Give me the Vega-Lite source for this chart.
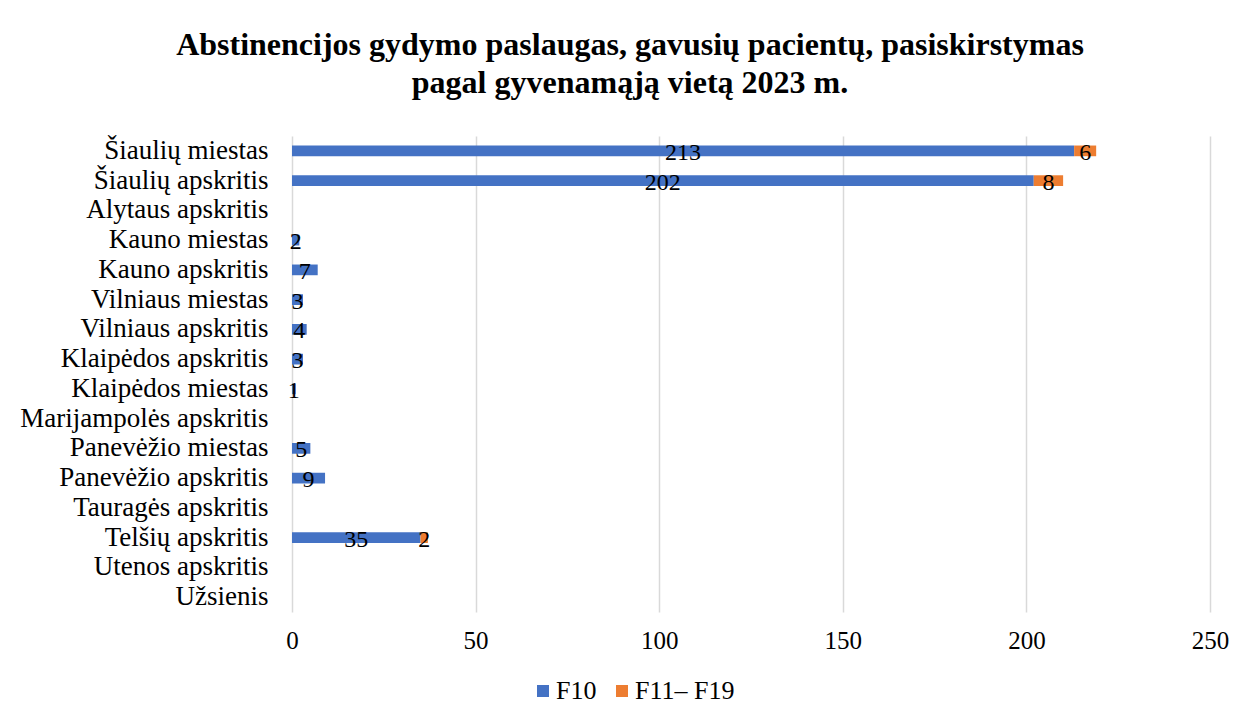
{
  "$schema": "https://vega.github.io/schema/vega-lite/v6.json",
  "width": 918,
  "height": 476,
  "autosize": {"type": "none"},
  "padding": {"left": 292, "top": 136, "right": 34, "bottom": 114},
  "background": "white",
  "title": {
    "text": ["Abstinencijos gydymo paslaugas, gavusių pacientų, pasiskirstymas", "pagal gyvenamąją vietą 2023 m."],
    "font": "Liberation Serif",
    "fontSize": 32,
    "fontWeight": "bold",
    "color": "#000000",
    "lineHeight": 38,
    "anchor": "middle",
    "dx": -121,
    "offset": 36
  },
  "data": {
    "values": [
      {"category": "Šiaulių miestas ", "series": "F10", "value": 213},
      {"category": "Šiaulių miestas ", "series": "F11– F19", "value": 6},
      {"category": "Šiaulių apskritis", "series": "F10", "value": 202},
      {"category": "Šiaulių apskritis", "series": "F11– F19", "value": 8},
      {"category": "Alytaus apskritis", "series": "F10", "value": null},
      {"category": "Kauno miestas", "series": "F10", "value": 2},
      {"category": "Kauno apskritis", "series": "F10", "value": 7},
      {"category": "Vilniaus miestas", "series": "F10", "value": 3},
      {"category": "Vilniaus apskritis", "series": "F10", "value": 4},
      {"category": "Klaipėdos apskritis", "series": "F10", "value": 3},
      {"category": "Klaipėdos miestas", "series": "F10", "value": 1},
      {"category": "Marijampolės apskritis", "series": "F10", "value": null},
      {"category": "Panevėžio miestas", "series": "F10", "value": 5},
      {"category": "Panevėžio apskritis", "series": "F10", "value": 9},
      {"category": "Tauragės apskritis", "series": "F10", "value": null},
      {"category": "Telšių apskritis", "series": "F10", "value": 35},
      {"category": "Telšių apskritis", "series": "F11– F19", "value": 2},
      {"category": "Utenos apskritis ", "series": "F10", "value": null},
      {"category": "Užsienis", "series": "F10", "value": null}
    ]
  },
  "transform": [
    {"filter": "isValid(datum.value)"},
    {"stack": "value", "groupby": ["category"], "sort": [{"field": "series", "order": "ascending"}], "as": ["x0", "x1"]},
    {"calculate": "(datum.x0 + datum.x1) / 2", "as": "xmid"}
  ],
  "encoding": {
    "y": {
      "field": "category",
      "type": "nominal",
      "scale": {
        "domain": ["Šiaulių miestas ", "Šiaulių apskritis", "Alytaus apskritis", "Kauno miestas", "Kauno apskritis", "Vilniaus miestas", "Vilniaus apskritis", "Klaipėdos apskritis", "Klaipėdos miestas", "Marijampolės apskritis", "Panevėžio miestas", "Panevėžio apskritis", "Tauragės apskritis", "Telšių apskritis", "Utenos apskritis ", "Užsienis"],
        "paddingInner": 0.64,
        "paddingOuter": 0.32
      },
      "axis": {
        "title": null,
        "ticks": false,
        "domain": false,
        "labelPadding": 24,
        "labelLimit": 0,
        "labelFont": "Liberation Serif",
        "labelFontSize": 27,
        "labelColor": "#000000",
        "grid": false
      }
    }
  },
  "layer": [
    {
      "mark": {"type": "bar"},
      "encoding": {
        "x": {
          "field": "x0",
          "type": "quantitative",
          "scale": {"domain": [0, 250], "nice": false},
          "axis": {
            "title": null,
            "values": [0, 50, 100, 150, 200, 250],
            "ticks": false,
            "domain": false,
            "grid": true,
            "gridColor": "#d9d9d9",
            "gridWidth": 1.5,
            "labelFlush": false,
            "labelPadding": 16,
            "labelFont": "Liberation Serif",
            "labelFontSize": 25,
            "labelColor": "#000000"
          }
        },
        "x2": {"field": "x1"},
        "color": {
          "field": "series",
          "type": "nominal",
          "scale": {"domain": ["F10", "F11– F19"], "range": ["#4472C4", "#ED7D31"]},
          "legend": {
            "title": null,
            "orient": "none",
            "direction": "horizontal",
            "padding": 0,
            "legendX": 238,
            "legendY": 542,
            "symbolType": "square",
            "symbolSize": 144,
            "symbolStrokeWidth": 0,
            "labelFont": "Liberation Serif",
            "labelFontSize": 26,
            "labelColor": "#000000",
            "labelOffset": 0,
            "columnPadding": 12
          }
        }
      }
    },
    {
      "mark": {"type": "text", "font": "Liberation Serif", "fontSize": 24, "color": "#000000", "baseline": "middle", "dy": 2},
      "encoding": {
        "x": {"field": "xmid", "type": "quantitative"},
        "text": {"field": "value", "type": "quantitative"}
      }
    }
  ],
  "config": {"view": {"stroke": null}}
}
